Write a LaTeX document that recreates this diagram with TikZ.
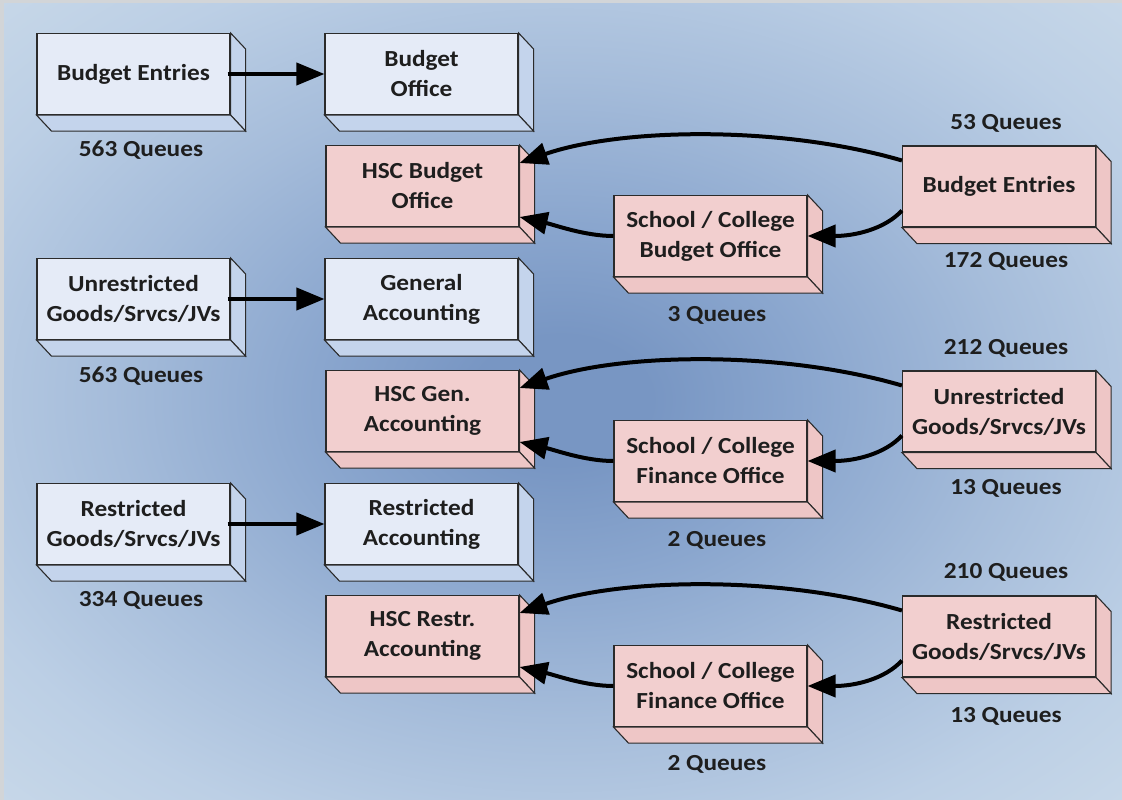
\documentclass[tikz,border=0pt]{standalone}
\usepackage{fontspec}
\setmainfont{Carlito}[FakeStretch=1.1]
\usetikzlibrary{arrows.meta}
\definecolor{bgc0}{HTML}{7896C3}
\definecolor{bgc1}{HTML}{8AA6CE}
\definecolor{bgc2}{HTML}{A5BCDA}
\definecolor{bgc3}{HTML}{BCCFE5}
\definecolor{bgc4}{HTML}{C9D9E9}
\definecolor{framegray}{HTML}{D2D5D8}
\definecolor{boxline}{HTML}{2B2B2B}
\definecolor{bfront}{HTML}{E5EBF7}
\definecolor{bside}{HTML}{C4D4EC}
\definecolor{pfront}{HTML}{F2CFCF}
\definecolor{pside}{HTML}{EEC6C6}
\definecolor{txt}{HTML}{1E1E1E}
\pgfdeclareradialshading{bgshade}{\pgfpoint{0bp}{0bp}}{color(0bp)=(bgc0); color(4bp)=(bgc0); color(11bp)=(bgc1); color(20bp)=(bgc2); color(29bp)=(bgc3); color(37bp)=(bgc4); color(50bp)=(bgc4)}
\newcommand\boxsides[2]{%
  \draw[side, fill=#2] (#1.north east) -- ++(15,16) -- ([shift={(15,16)}]#1.south east) -- (#1.south east) -- cycle;
  \draw[side, fill=#2] (#1.south west) -- (#1.south east) -- ([shift={(15,16)}]#1.south east) -- ([shift={(15,16)}]#1.south west) -- cycle;}
\begin{document}
\begin{tikzpicture}[x=1pt,y=-1pt,
  box/.style={draw=boxline, line width=1.1pt, minimum width=193pt, minimum height=81pt,
    align=center, inner sep=0pt, text=txt, font=\bfseries\fontsize{23}{30}\selectfont},
  bluebox/.style={box, fill=bfront},
  pinkbox/.style={box, fill=pfront},
  side/.style={draw=boxline, line width=1.1pt, line join=miter},
  lbl/.style={text=txt, font=\bfseries\fontsize{23}{28}\selectfont, inner sep=0pt},
  arr/.style={draw=black, line width=4pt, -{Triangle[length=28pt,width=22pt]}}]
\useasboundingbox (0,0) rectangle (1122,800);
\fill[bgc4] (0,0) rectangle (1122,800);
\shade[shading=bgshade] (0,0) rectangle (1122,800);
\fill[framegray] (0,0) rectangle (4,800);
\fill[framegray] (0,0) rectangle (1122,3);

% blue (left) boxes
\node[bluebox] (b1) at (133.5,74) {Budget Entries};
\node[bluebox] (b2) at (421.5,74) {Budget\\Office};
\node[bluebox] (b3) at (133.5,299) {Unrestricted\\Goods/Srvcs/JVs};
\node[bluebox] (b4) at (421.5,299) {General\\Accounting};
\node[bluebox] (b5) at (133.5,524) {Restricted\\Goods/Srvcs/JVs};
\node[bluebox] (b6) at (421.5,524) {Restricted\\Accounting};
\boxsides{b1}{bside}\boxsides{b2}{bside}\boxsides{b3}{bside}
\boxsides{b4}{bside}\boxsides{b5}{bside}\boxsides{b6}{bside}

% pink boxes
\node[pinkbox] (h1) at (422.5,186) {HSC Budget\\Office};
\node[pinkbox] (s1) at (710.5,236) {School / College\\Budget Office};
\node[pinkbox] (r1) at (999,186.5) {Budget Entries};
\node[pinkbox] (h2) at (422.5,411) {HSC Gen.\\Accounting};
\node[pinkbox] (s2) at (710.5,461) {School / College\\Finance Office};
\node[pinkbox] (r2) at (999,411.5) {Unrestricted\\Goods/Srvcs/JVs};
\node[pinkbox] (h3) at (422.5,636) {HSC Restr.\\Accounting};
\node[pinkbox] (s3) at (710.5,686) {School / College\\Finance Office};
\node[pinkbox] (r3) at (999,636.5) {Restricted\\Goods/Srvcs/JVs};
\boxsides{h1}{pside}\boxsides{s1}{pside}\boxsides{r1}{pside}
\boxsides{h2}{pside}\boxsides{s2}{pside}\boxsides{r2}{pside}
\boxsides{h3}{pside}\boxsides{s3}{pside}\boxsides{r3}{pside}

% queue labels
\node[lbl] (q1) at (141,150) {563 Queues};
\node[lbl] (q2) at (141,376) {563 Queues};
\node[lbl] (q3) at (141,600) {334 Queues};
\node[lbl] (q4) at (1006,123) {53 Queues};
\node[lbl] (q5) at (1006,261) {172 Queues};
\node[lbl] (q6) at (717,315) {3 Queues};
\node[lbl] (q7) at (1006,348) {212 Queues};
\node[lbl] (q8) at (1006,488) {13 Queues};
\node[lbl] (q9) at (717,540) {2 Queues};
\node[lbl] (q10) at (1006,572) {210 Queues};
\node[lbl] (q11) at (1006,716) {13 Queues};
\node[lbl] (q12) at (717,764) {2 Queues};

% blue arrows
\draw[arr] ([xshift=-3pt]b1.east) -- (b2.west);
\draw[arr] ([xshift=-3pt]b3.east) -- (b4.west);
\draw[arr] ([xshift=-3pt]b5.east) -- (b6.west);

% pink arrows
\draw[arr] ([yshift=26pt]r1.west) .. controls (780,125) and (620,128) .. ([yshift=23pt]h1.east);
\draw[arr] ([yshift=-24pt]r1.west) .. controls (885,229) and (855,236) .. (s1.east);
\draw[arr] (s1.west) .. controls (585,236) and (555,225) .. ([yshift=-31pt]h1.east);

\draw[arr] ([yshift=26pt]r2.west) .. controls (780,350) and (620,353) .. ([yshift=23pt]h2.east);
\draw[arr] ([yshift=-24pt]r2.west) .. controls (885,454) and (855,461) .. (s2.east);
\draw[arr] (s2.west) .. controls (585,461) and (555,450) .. ([yshift=-31pt]h2.east);

\draw[arr] ([yshift=26pt]r3.west) .. controls (780,575) and (620,578) .. ([yshift=23pt]h3.east);
\draw[arr] ([yshift=-24pt]r3.west) .. controls (885,679) and (855,686) .. (s3.east);
\draw[arr] (s3.west) .. controls (585,686) and (555,675) .. ([yshift=-31pt]h3.east);
\end{tikzpicture}
\end{document}
